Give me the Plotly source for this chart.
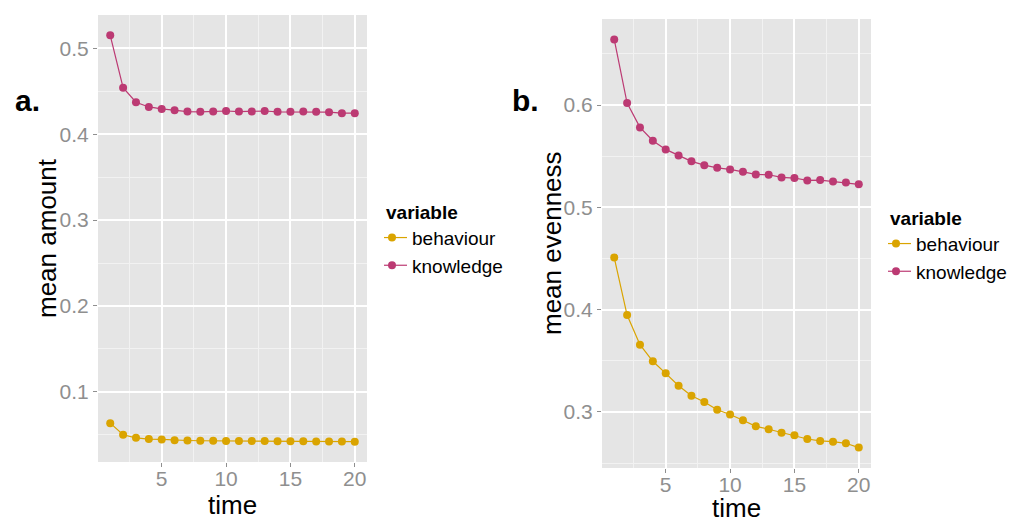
import plotly.graph_objects as go

time = list(range(1, 21))

amount_behaviour = [0.0636, 0.0500, 0.0465, 0.0450, 0.0446, 0.0438, 0.0434, 0.0431, 0.0430,
                    0.0429, 0.0428, 0.0427, 0.0427, 0.0426, 0.0425, 0.0424, 0.0423, 0.0422,
                    0.0421, 0.0420]
amount_knowledge = [0.5151, 0.4542, 0.4372, 0.4317, 0.4294, 0.4279, 0.4263, 0.4260, 0.4263,
                    0.4270, 0.4263, 0.4263, 0.4270, 0.4260, 0.4260, 0.4263, 0.4260, 0.4256,
                    0.4244, 0.4244]

even_behaviour = [0.4510, 0.3948, 0.3658, 0.3496, 0.3378, 0.3257, 0.3159, 0.3098, 0.3022,
                  0.2975, 0.2919, 0.2860, 0.2831, 0.2798, 0.2772, 0.2736, 0.2717, 0.2710,
                  0.2694, 0.2652]
even_knowledge = [0.6642, 0.6020, 0.5782, 0.5651, 0.5567, 0.5508, 0.5450, 0.5413, 0.5387,
                  0.5371, 0.5348, 0.5322, 0.5319, 0.5293, 0.5287, 0.5264, 0.5267, 0.5254,
                  0.5244, 0.5225]

series_names = ["behaviour", "knowledge"]
colors = {"behaviour": "#DAA400", "knowledge": "#BC3A73"}

x_ticks = [5, 10, 15, 20]
y1_ticks = [0.1, 0.2, 0.3, 0.4, 0.5]
y2_ticks = [0.3, 0.4, 0.5, 0.6]

FONT = "Liberation Sans, Arial, sans-serif"
# page body has an 8px margin; size the figure to fill the rest of the window
OFF = 8
W, H = 1024 - OFF, 521 - OFF


def px(x):
    return (x - OFF) / W


def py(y):
    return 1 - (y - OFF) / H


def expand(vals):
    lo, hi = min(vals), max(vals)
    d = (hi - lo) * 0.05
    return [lo - d, hi + d]


fig = go.Figure()

panels = [
    ("x", "y", "legend", {"behaviour": amount_behaviour, "knowledge": amount_knowledge}),
    ("x2", "y2", "legend2", {"behaviour": even_behaviour, "knowledge": even_knowledge}),
]
for xa, ya, lg, data in panels:
    for name in series_names:
        fig.add_trace(go.Scatter(
            x=time, y=data[name], name=name, mode="lines+markers",
            xaxis=xa, yaxis=ya, legend=lg,
            line=dict(color=colors[name], width=1.2),
            marker=dict(color=colors[name], size=8),
        ))

grid_major = "#FFFFFF"
grid_minor = "#F2F2F2"
tick_font = dict(family=FONT, size=21, color="#8F8F8F")


def xaxis(domain, anchor):
    return dict(
        domain=domain, anchor=anchor, range=expand(time), automargin=False,
        tickvals=x_ticks, ticks="outside", ticklen=4, tickcolor="#8F8F8F",
        ticklabelstandoff=-6,
        tickfont=tick_font, showgrid=True, gridcolor=grid_major, gridwidth=1.5,
        minor=dict(tickvals=[2.5, 7.5, 12.5, 17.5], showgrid=True, gridcolor=grid_minor,
                   gridwidth=0.7, ticks=""),
        zeroline=False, showline=False,
    )


def yaxis(domain, anchor, vals, ticks):
    minors = [round(t - 0.05, 2) for t in ticks] + [round(ticks[-1] + 0.05, 2)]
    return dict(
        domain=domain, anchor=anchor, range=expand(vals), automargin=False,
        tickvals=ticks, ticktext=[f"{t:.1f}" for t in ticks],
        ticks="outside", ticklen=4, tickcolor="#8F8F8F",
        tickfont=tick_font, showgrid=True, gridcolor=grid_major, gridwidth=1.5,
        minor=dict(tickvals=minors, showgrid=True, gridcolor=grid_minor,
                   gridwidth=0.7, ticks=""),
        zeroline=False, showline=False,
    )


def legend_cfg(x, y):
    return dict(
        x=px(x), y=py(y), xanchor="left", yanchor="top",
        title=dict(text="<b>variable</b>", font=dict(family=FONT, size=19, color="#000")),
        font=dict(family=FONT, size=19, color="#000"),
        bgcolor="rgba(0,0,0,0)", tracegroupgap=0, itemwidth=30, indentation=-12,
    )


def ann(text, x, y, size, angle=0, bold=False):
    t = f"<b>{text}</b>" if bold else text
    return dict(text=t, x=px(x), y=py(y), xref="paper", yref="paper",
                xanchor="center", yanchor="middle", textangle=angle,
                showarrow=False, font=dict(family=FONT, size=size, color="#000"))


fig.update_layout(
    width=W, height=H,
    margin=dict(l=0, r=0, t=0, b=0, autoexpand=False),
    paper_bgcolor="white",
    plot_bgcolor="#E5E5E5",
    font=dict(family=FONT),
    xaxis=xaxis([px(98), px(367)], "y"),
    yaxis=yaxis([py(462), py(15)], "x", amount_behaviour + amount_knowledge, y1_ticks),
    xaxis2=xaxis([px(602), px(871)], "y2"),
    yaxis2=yaxis([py(468), py(19)], "x2", even_behaviour + even_knowledge, y2_ticks),
    legend=legend_cfg(384, 194),
    legend2=legend_cfg(888, 200),
    annotations=[
        ann("a.", 27, 100, 30, bold=True),
        ann("b.", 525, 100, 30, bold=True),
        ann("mean amount", 47, 238, 26, angle=-90),
        ann("mean evenness", 552, 243, 26, angle=-90),
        ann("time", 232, 505, 26),
        ann("time", 736, 508, 26),
    ],
    showlegend=True,
)

fig.write_html("out.html")
